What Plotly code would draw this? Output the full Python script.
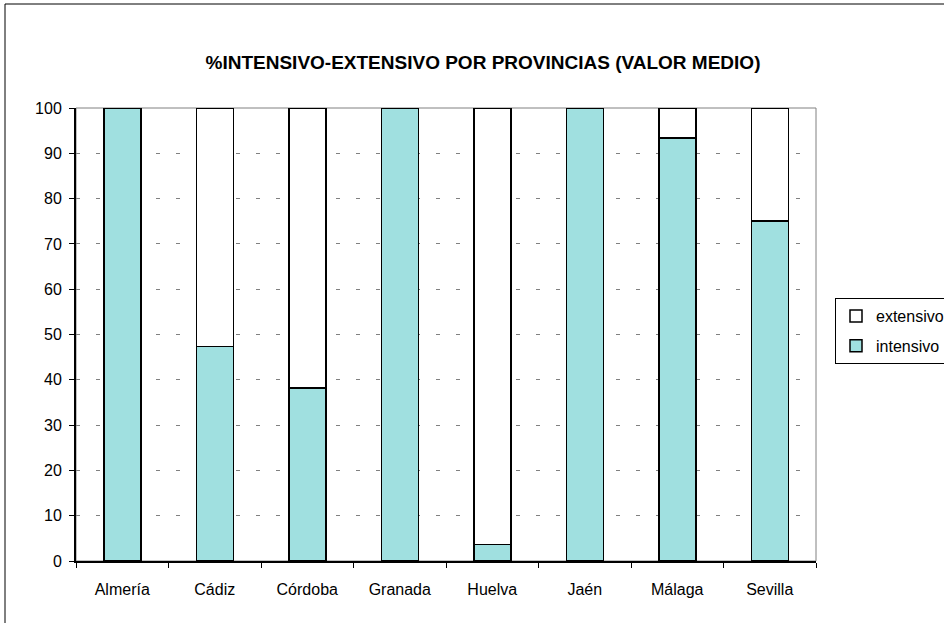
import plotly.graph_objects as go

provincias = ["Almería", "Cádiz", "Córdoba", "Granada", "Huelva", "Jaén", "Málaga", "Sevilla"]
intensivo = [100, 47.3, 38.2, 100, 3.6, 100, 93.4, 75.1]
extensivo = [0, 52.7, 61.8, 0, 96.4, 0, 6.6, 24.9]
y_ticks = [0, 10, 20, 30, 40, 50, 60, 70, 80, 90, 100]

W, H = 944, 623
ML, MR, MT, MB = 76, 128, 108, 62
pw = W - ML - MR
ph = H - MT - MB

FONT = "Liberation Sans, Arial, sans-serif"

fig = go.Figure()
fig.add_trace(go.Bar(
    x=provincias, y=intensivo, name="intensivo", legendgroup="i", legendrank=2,
    marker=dict(color="#A0E0E0", line=dict(color="black", width=1.5)),
))
fig.add_trace(go.Bar(
    x=provincias, y=extensivo, name="extensivo", legendgroup="e", legendrank=1,
    marker=dict(color="white", line=dict(color="black", width=1.5)),
))

# outer chart border (in paper coords, extending past the plot area)
fig.add_shape(type="rect", xref="paper", yref="paper",
              x0=(5 - ML) / pw, x1=(960 - ML) / pw,
              y0=(H - MB - 640) / ph, y1=(H - MB - 4) / ph,
              line=dict(color="black", width=1), fillcolor="rgba(0,0,0,0)", layer="below")
# plot area border
fig.add_shape(type="rect", xref="paper", yref="paper", x0=0, x1=1, y0=0, y1=1,
              line=dict(color="#808080", width=1), layer="below")

fig.update_layout(
    width=W, height=H,
    margin=dict(l=ML, r=MR, t=MT, b=MB, autoexpand=False),
    paper_bgcolor="white", plot_bgcolor="white",
    barmode="stack", bargap=0.6,
    font=dict(family=FONT, size=16, color="black"),
    title=dict(text="<b>%INTENSIVO-EXTENSIVO POR PROVINCIAS (VALOR MEDIO)</b>",
               x=483 / W, xanchor="center", y=1 - 62 / H, yanchor="middle",
               font=dict(family=FONT, size=19, color="black")),
    legend=dict(xref="container", yref="container",
                x=835 / W, xanchor="left", y=1 - 331 / H, yanchor="middle",
                bordercolor="black", borderwidth=1, bgcolor="white",
                font=dict(family=FONT, size=16), traceorder="grouped",
                itemwidth=30, tracegroupgap=6),
    showlegend=True,
)
fig.update_xaxes(showline=True, linecolor="black", linewidth=2,
                 ticks="outside", ticklen=5, tickcolor="black", tickson="boundaries",
                 showgrid=False, ticklabelstandoff=13)
fig.update_yaxes(range=[0, 100], tickvals=y_ticks, showline=True, linecolor="black", linewidth=2,
                 ticks="outside", ticklen=5, tickcolor="black",
                 showgrid=True, gridcolor="#808080", gridwidth=1, griddash="4px,16px",
                 zeroline=False, ticklabelstandoff=4)

fig.write_html("out.html", config={"displayModeBar": False},
               post_script="document.body.style.margin='0';")
